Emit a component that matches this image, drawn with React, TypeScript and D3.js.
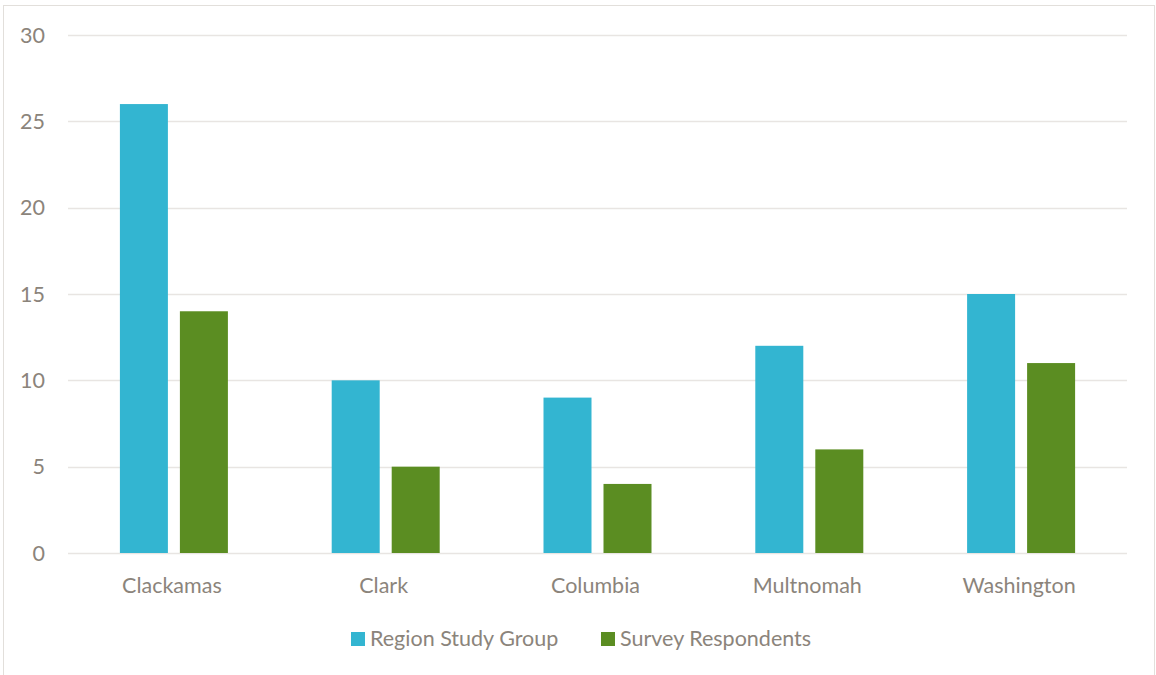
import React from "react";
import * as d3 from "d3";

const categories = ["Clackamas", "Clark", "Columbia", "Multnomah", "Washington"];
const regionStudyGroup = [26, 10, 9, 12, 15];
const surveyRespondents = [14, 5, 4, 6, 11];
const yTicks = [0, 5, 10, 15, 20, 25, 30];
const seriesNames = ["Region Study Group", "Survey Respondents"];
const seriesColors = ["#33b5d1", "#5b8d22"];

export default function App() {
  const W = 1156, H = 675;
  const left = 68, right = 1127, top = 35, bottom = 553;
  const x = d3.scaleBand<string>().domain(categories).range([left, right]);
  const y = d3.scaleLinear().domain([0, 30]).range([bottom, top]);
  const barW = 48, gap = 12;
  const textColor = "#8b847b";
  const font = "Lato, 'Open Sans', sans-serif";
  const fs = 21.5;
  const series = [regionStudyGroup, surveyRespondents];
  return (
    <svg width={W} height={H} style={{ position: "absolute", left: 0, top: 0, background: "#fff" }}>
      <rect x={3.5} y={5.5} width={1151} height={700} fill="none" stroke="#e2dfdb" strokeWidth={1} />
      {yTicks.map((t) => (
        <g key={t}>
          <line x1={left} x2={right} y1={Math.round(y(t)) + 0.5} y2={Math.round(y(t)) + 0.5} stroke="#e8e5e2" strokeWidth={1.5} />
          <text x={45} y={y(t)} dy="0.35em" textAnchor="end" fill={textColor} fontSize={fs} fontFamily={font}>{t}</text>
        </g>
      ))}
      {categories.map((c, i) => {
        const cx = x(c)! + x.bandwidth() / 2;
        return (
          <g key={c}>
            {series.map((s, j) => {
              const bx = cx - barW - gap / 2 + j * (barW + gap);
              return <rect key={j} x={bx} y={y(s[i])} width={barW} height={y(0) - y(s[i])} fill={seriesColors[j]} />;
            })}
            <text x={cx - 2} y={593} textAnchor="middle" fill={textColor} fontSize={fs} fontFamily={font}>{c}</text>
          </g>
        );
      })}
      {seriesNames.map((n, j) => {
        const lx = j === 0 ? 351 : 601;
        return (
          <g key={n}>
            <rect x={lx} y={632} width={14} height={14} fill={seriesColors[j]} />
            <text x={lx + 19} y={646} fill={textColor} fontSize={fs} fontFamily={font}>{n}</text>
          </g>
        );
      })}
    </svg>
  );
}
